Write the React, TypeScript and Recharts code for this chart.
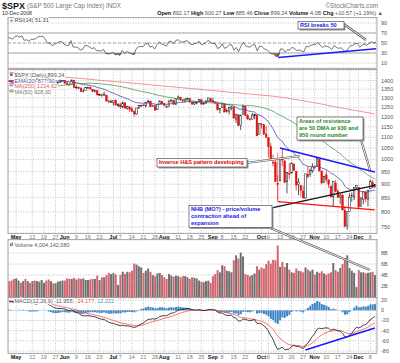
import React from "react"
import { ComposedChart, Bar, Line, Area, XAxis, YAxis, CartesianGrid, ReferenceLine, Cell } from "recharts"

// trading days, late Apr - 10 Dec 2008
const dates = [
  "4/28", "4/29", "4/30",
  "5/1", "5/2", "5/5", "5/6", "5/7", "5/8", "5/9", "5/12", "5/13", "5/14", "5/15", "5/16", "5/19", "5/20", "5/21", "5/22", "5/23", "5/27", "5/28", "5/29", "5/30",
  "6/2", "6/3", "6/4", "6/5", "6/6", "6/9", "6/10", "6/11", "6/12", "6/13", "6/16", "6/17", "6/18", "6/19", "6/20", "6/23", "6/24", "6/25", "6/26", "6/27", "6/30",
  "7/1", "7/2", "7/3", "7/7", "7/8", "7/9", "7/10", "7/11", "7/14", "7/15", "7/16", "7/17", "7/18", "7/21", "7/22", "7/23", "7/24", "7/25", "7/28", "7/29", "7/30", "7/31",
  "8/1", "8/4", "8/5", "8/6", "8/7", "8/8", "8/11", "8/12", "8/13", "8/14", "8/15", "8/18", "8/19", "8/20", "8/21", "8/22", "8/25", "8/26", "8/27", "8/28", "8/29",
  "9/2", "9/3", "9/4", "9/5", "9/8", "9/9", "9/10", "9/11", "9/12", "9/15", "9/16", "9/17", "9/18", "9/19", "9/22", "9/23", "9/24", "9/25", "9/26", "9/29", "9/30",
  "10/1", "10/2", "10/3", "10/6", "10/7", "10/8", "10/9", "10/10", "10/13", "10/14", "10/15", "10/16", "10/17", "10/20", "10/21", "10/22", "10/23", "10/24", "10/27", "10/28", "10/29", "10/30", "10/31",
  "11/3", "11/4", "11/5", "11/6", "11/7", "11/10", "11/11", "11/12", "11/13", "11/14", "11/17", "11/18", "11/19", "11/20", "11/21", "11/24", "11/25", "11/26", "11/28",
  "12/1", "12/2", "12/3", "12/4", "12/5", "12/8", "12/9", "12/10",
]

const opens = [
  1397.84, 1396.37, 1391.2,
  1385.97, 1409.16, 1415.3, 1405.6, 1417.5, 1394.3, 1394.9, 1389.4, 1404.4, 1405.0, 1408.4, 1423.9, 1425.3, 1424.5, 1414.1, 1390.8, 1392.2, 1375.97, 1386.5, 1390.5, 1398.4,
  1399.6, 1386.4, 1376.3, 1377.5, 1400.1, 1360.8, 1358.98, 1357.1, 1335.8, 1341.8, 1358.9, 1360.7, 1349.6, 1336.9, 1341.0, 1319.8, 1317.2, 1314.5, 1316.3, 1283.6, 1278.1,
  1276.7, 1285.8, 1262.96, 1262.9, 1251.8, 1273.4, 1245.3, 1248.7, 1241.6, 1226.8, 1214.6, 1246.3, 1258.2, 1261.8, 1257.1, 1278.9, 1283.2, 1253.1, 1257.8, 1236.4, 1264.5, 1281.4,
  1269.4, 1253.3, 1254.9, 1283.99, 1286.5, 1266.3, 1294.4, 1304.8, 1288.6, 1282.1, 1293.9, 1298.1, 1276.7, 1267.3, 1271.1, 1277.6, 1290.5, 1267.0, 1271.3, 1283.8, 1296.5,
  1287.8, 1276.6, 1271.8, 1233.2, 1249.5, 1267.98, 1227.5, 1229.0, 1245.9, 1250.9, 1188.3, 1210.3, 1157.1, 1213.1, 1255.4, 1207.6, 1188.8, 1187.9, 1204.5, 1209.1, 1113.8,
  1164.2, 1160.6, 1115.2, 1097.6, 1057.6, 988.9, 988.4, 902.3, 912.8, 1009.97, 994.6, 909.5, 942.3, 943.5, 980.4, 951.7, 899.1, 895.2, 874.3, 848.9, 939.5, 939.4, 953.1,
  968.7, 971.3, 1001.8, 952.4, 907.4, 936.8, 917.2, 893.4, 853.1, 904.4, 873.2, 852.3, 859.0, 805.9, 755.8, 801.2, 853.4, 852.9, 886.9,
  888.6, 817.9, 843.6, 869.8, 844.4, 882.7, 906.5, 892.17,
]

const highs = [
  1402.9, 1397.1, 1404.6,
  1410.1, 1422.7, 1415.3, 1421.6, 1419.5, 1402.4, 1394.9, 1404.1, 1406.3, 1420.2, 1424.4, 1425.8, 1440.2, 1424.5, 1419.1, 1399.1, 1392.2, 1387.4, 1391.3, 1406.3, 1404.5,
  1399.6, 1393.1, 1388.2, 1405.3, 1400.1, 1370.6, 1366.8, 1357.1, 1353.0, 1360.1, 1364.7, 1366.6, 1349.6, 1347.7, 1341.0, 1323.8, 1326.0, 1335.6, 1316.3, 1289.5, 1290.3,
  1285.3, 1292.2, 1271.5, 1273.9, 1282.1, 1277.4, 1257.7, 1257.3, 1253.5, 1234.4, 1245.5, 1262.3, 1262.2, 1267.7, 1277.4, 1291.2, 1283.2, 1263.2, 1260.1, 1263.2, 1284.3, 1284.9,
  1270.5, 1260.5, 1284.9, 1291.7, 1286.5, 1297.9, 1313.2, 1304.8, 1294.0, 1300.1, 1302.1, 1300.2, 1276.7, 1276.0, 1281.6, 1293.1, 1290.5, 1275.7, 1289.6, 1300.7, 1296.5,
  1303.0, 1280.6, 1271.8, 1244.9, 1274.4, 1268.7, 1243.9, 1249.1, 1255.1, 1250.9, 1214.8, 1210.3, 1211.1, 1265.1, 1255.5, 1214.0, 1197.4, 1220.0, 1215.8, 1209.1, 1168.0,
  1167.0, 1160.6, 1153.8, 1097.6, 1072.9, 1021.1, 1005.3, 936.4, 1006.9, 1044.3, 994.6, 947.7, 984.6, 985.4, 985.4, 951.7, 922.8, 896.3, 893.8, 940.51, 969.97, 963.2, 984.4,
  975.5, 1007.5, 1001.8, 952.4, 931.5, 951.95, 917.2, 893.4, 913.0, 916.9, 882.3, 865.9, 864.6, 820.5, 801.2, 865.6, 868.9, 887.7, 896.3,
  888.6, 850.5, 873.1, 875.6, 879.4, 918.6, 916.3, 900.27,
]

const lows = [
  1394.4, 1386.7, 1384.0,
  1383.1, 1406.3, 1404.4, 1397.1, 1391.2, 1389.4, 1384.1, 1386.2, 1396.3, 1405.0, 1406.9, 1414.4, 1421.6, 1409.1, 1388.8, 1390.2, 1373.7, 1373.1, 1378.2, 1388.6, 1398.1,
  1377.8, 1370.1, 1371.7, 1377.5, 1359.9, 1350.6, 1351.6, 1335.4, 1331.3, 1341.7, 1352.1, 1350.5, 1333.4, 1330.9, 1314.5, 1315.3, 1304.4, 1314.5, 1283.1, 1272.0, 1274.9,
  1260.7, 1261.5, 1252.0, 1240.7, 1245.0, 1244.6, 1236.8, 1225.4, 1225.0, 1200.4, 1211.4, 1241.4, 1251.8, 1255.7, 1248.8, 1276.1, 1251.5, 1251.8, 1234.3, 1236.4, 1264.5, 1265.7,
  1254.5, 1247.5, 1254.7, 1276.0, 1264.3, 1262.1, 1292.8, 1285.6, 1274.9, 1276.8, 1290.7, 1274.5, 1263.1, 1261.2, 1265.2, 1277.6, 1264.9, 1263.2, 1270.6, 1283.8, 1281.9,
  1272.2, 1265.6, 1232.8, 1217.2, 1247.1, 1224.5, 1221.6, 1211.5, 1233.8, 1192.7, 1169.3, 1155.9, 1133.5, 1213.1, 1205.6, 1187.0, 1179.8, 1187.9, 1187.5, 1106.4, 1113.8,
  1140.8, 1111.4, 1098.1, 1007.97, 996.2, 970.97, 909.2, 839.8, 912.8, 972.1, 903.99, 865.8, 918.7, 943.5, 952.5, 875.8, 858.4, 852.9, 846.8, 845.3, 922.3, 928.5, 944.6,
  958.6, 971.3, 949.9, 899.7, 906.9, 907.5, 884.9, 850.5, 818.7, 869.9, 848.98, 826.8, 806.2, 747.8, 741.0, 801.2, 834.99, 841.4, 881.2,
  815.7, 817.9, 827.6, 833.6, 818.4, 882.7, 885.4, 885.46,
]

const closes = [
  1396.37, 1390.94, 1385.59,
  1409.34, 1413.90, 1407.49, 1418.26, 1392.57, 1397.68, 1388.28, 1403.58, 1403.04, 1408.66, 1423.57, 1425.35, 1426.63, 1413.40, 1390.71, 1394.35, 1375.93, 1385.35, 1390.84, 1398.26, 1400.38,
  1385.67, 1377.65, 1377.20, 1404.05, 1360.68, 1361.76, 1358.44, 1335.49, 1339.87, 1360.03, 1360.14, 1350.93, 1337.81, 1342.83, 1317.93, 1318.00, 1314.29, 1321.97, 1283.15, 1278.38, 1280.00,
  1284.91, 1261.52, 1262.90, 1252.31, 1273.70, 1244.69, 1253.39, 1239.49, 1228.30, 1214.91, 1245.36, 1260.32, 1260.68, 1260.00, 1277.00, 1282.19, 1252.54, 1257.76, 1234.37, 1263.20, 1284.26, 1267.38,
  1260.31, 1249.01, 1284.88, 1289.19, 1266.07, 1296.32, 1305.32, 1289.59, 1285.83, 1292.93, 1298.20, 1278.60, 1266.69, 1274.54, 1277.72, 1292.20, 1266.84, 1271.51, 1281.66, 1300.68, 1282.83,
  1277.58, 1274.98, 1236.83, 1242.31, 1267.79, 1224.51, 1232.04, 1249.05, 1251.70, 1192.70, 1213.60, 1156.39, 1206.51, 1255.08, 1207.09, 1188.22, 1185.87, 1209.18, 1213.27, 1106.42, 1166.36,
  1161.06, 1114.28, 1099.23, 1056.89, 996.23, 984.94, 909.92, 899.22, 1003.35, 998.01, 907.84, 946.43, 940.55, 985.40, 955.05, 896.78, 908.11, 876.77, 848.92, 940.51, 930.09, 954.09, 968.75,
  966.30, 1005.75, 952.77, 904.88, 930.99, 919.21, 898.95, 852.30, 911.29, 873.29, 850.75, 859.12, 806.58, 752.44, 800.03, 851.81, 857.39, 887.68, 896.24,
  816.21, 848.81, 870.74, 845.22, 876.07, 909.70, 888.67, 899.24,
]

// volume in billions of shares
const volumes = [
  2.9, 3.0, 3.3,
  3.4, 3.0, 2.6, 2.9, 3.3, 2.9, 2.6, 2.9, 3.0, 2.9, 2.8, 3.1, 2.6, 3.0, 3.2, 2.9, 2.5, 2.5, 2.8, 2.9, 3.0,
  3.0, 3.4, 3.3, 3.3, 3.5, 3.2, 3.4, 3.3, 3.4, 3.1, 3.1, 3.2, 3.3, 3.3, 3.9, 3.1, 3.6, 3.6, 4.0, 4.4, 4.2,
  4.4, 4.1, 2.2, 4.0, 4.6, 4.2, 4.6, 4.5, 4.8, 6.1, 5.9, 5.6, 5.4, 4.4, 4.8, 5.2, 4.6, 4.0, 3.8, 4.3, 4.4, 4.0,
  3.6, 3.3, 4.2, 3.9, 3.7, 3.9, 3.8, 3.6, 3.8, 3.8, 3.6, 3.3, 3.6, 3.5, 3.4, 3.0, 2.8, 2.7, 2.9, 3.0, 2.6,
  3.8, 4.2, 4.9, 4.5, 5.8, 5.6, 4.8, 4.7, 4.5, 6.7, 7.6, 7.0, 8.1, 7.4, 4.2, 4.0, 3.8, 4.0, 4.3, 5.6, 5.0,
  5.4, 5.2, 6.0, 6.6, 6.1, 6.8, 6.7, 9.4, 5.5, 6.4, 5.5, 6.2, 5.0, 4.5, 4.4, 5.2, 4.8, 4.7, 4.5, 5.4, 5.0, 4.7, 5.0,
  4.1, 4.6, 4.4, 4.7, 4.3, 4.1, 4.3, 4.5, 6.2, 4.9, 4.6, 5.3, 6.0, 7.1, 7.6, 5.3, 4.8, 4.4, 1.8,
  4.9, 4.5, 4.5, 4.3, 4.4, 4.5, 4.6, 4.0,
]

const prevClose0 = 1397.84 // 25 Apr close

// 50-day MA before enough closes are on the chart, 200-day MA throughout
const ma50EarlyDates = ["4/28", "5/5", "5/12", "5/19", "5/27", "6/3", "6/10", "6/17", "6/24", "7/1"]
const ma50EarlyVals = [1344, 1346, 1350, 1358, 1367, 1376, 1382, 1385, 1381, 1373]
const ma200Dates = [
  "4/28", "5/5", "5/12", "5/19", "5/27", "6/3", "6/10", "6/17", "6/24", "7/1", "7/9", "7/16", "7/23", "7/30", "8/6", "8/13", "8/20",
  "8/27", "9/4", "9/11", "9/18", "9/25", "10/2", "10/9", "10/16", "10/23", "10/30", "11/6", "11/13", "11/20", "11/28", "12/5", "12/10",
]
const ma200Vals = [
  1451, 1445, 1439, 1432, 1426, 1420, 1414, 1408, 1401, 1395, 1389, 1383, 1377, 1370, 1364, 1358, 1352,
  1346, 1340, 1333, 1327, 1321, 1315, 1309, 1300, 1289, 1278, 1267, 1254, 1243, 1232, 1221, 1214.62,
]

const ema20Seed = 1378
const ema12Seed = 1380
const ema26Seed = 1362
const signalSeed = 16
const gainSeed = 9
const lossSeed = 5.5

const tickDates = ["5/1", "5/12", "5/19", "5/27", "6/2", "6/9", "6/16", "6/23", "7/1", "7/7", "7/14", "7/21", "7/28", "8/1", "8/11", "8/18", "8/25", "9/2", "9/8", "9/15", "9/22", "10/1", "10/6", "10/13", "10/20", "10/27", "11/3", "11/10", "11/17", "11/24", "12/1", "12/8"]
const tickLabels = ["May", "12", "19", "27", "Jun", "9", "16", "23", "Jul", "7", "14", "21", "28", "Aug", "11", "18", "25", "Sep", "8", "15", "22", "Oct", "6", "13", "20", "27", "Nov", "10", "17", "24", "Dec", "8"]

const priceTicks = [750, 800, 850, 900, 950, 1000, 1050, 1100, 1150, 1200, 1250, 1300, 1350, 1400]
const rsiTicks = [10, 30, 50, 70, 90]
const volTicks = [2, 4, 6, 8]
const macdTicks = [-80, -60, -40, -20, 0, 20]

const FONT = "'Liberation Sans', Arial, sans-serif"
const LEFT = 8
const AXIS_W = 24
const GRID = "#c4c4c4"

const data = (() => {
  let e20 = ema20Seed, e12 = ema12Seed, e26 = ema26Seed, sig = signalSeed
  let ag = gainSeed, al = lossSeed
  return dates.map((d, i) => {
    const c = closes[i]
    const ch = c - (i === 0 ? prevClose0 : closes[i - 1])
    e20 += (c - e20) * (2 / 21)
    e12 += (c - e12) * (2 / 13)
    e26 += (c - e26) * (2 / 27)
    const macd = e12 - e26
    sig += (macd - sig) * 0.2
    ag = (ag * 13 + Math.max(ch, 0)) / 14
    al = (al * 13 + Math.max(-ch, 0)) / 14
    const rsi = 100 - 100 / (1 + ag / al)
    let ma50: number | undefined
    if (i >= 49) ma50 = closes.slice(i - 49, i + 1).reduce((a, b) => a + b, 0) / 50
    else {
      const k = ma50EarlyDates.indexOf(d)
      if (k >= 0) ma50 = ma50EarlyVals[k]
    }
    const m = ma200Dates.indexOf(d)
    return {
      d,
      o: opens[i],
      h: highs[i],
      l: lows[i],
      c,
      up: ch >= 0,
      range: [lows[i], highs[i]],
      ema20: e20,
      ma50,
      ma200: m >= 0 ? ma200Vals[m] : undefined,
      v: volumes[i],
      rsi,
      rsiLow: [Math.min(rsi, 30), 30],
      macd,
      signal: sig,
      hist: macd - sig,
    }
  })
})()

const Candle = (props: any) => {
  const { x, y, width, height, payload } = props
  if (!payload || height == null) return null
  const { o, h, l, c, up } = payload
  const span = Math.log(h) - Math.log(l)
  const at = (v: number) => y + (height * (Math.log(h) - Math.log(v))) / span
  const cx = x + width / 2
  const col = up ? "#111" : "#e01010"
  const yo = at(o)
  const yc = at(c)
  const top = Math.min(yo, yc)
  const bh = Math.max(Math.abs(yc - yo), 0.7)
  return (
    <g>
      <line x1={cx} x2={cx} y1={y} y2={y + height} stroke={col} strokeWidth={0.7} />
      <rect x={cx - 0.8} y={top} width={1.6} height={bh} fill={c >= o ? "#fff" : col} stroke={col} strokeWidth={0.5} />
    </g>
  )
}

const XTick = ({ x, y, payload }: any) => {
  const label = tickLabels[tickDates.indexOf(payload.value)]
  const month = /[A-Za-z]/.test(label)
  return (
    <text x={x} y={y + 6.3} textAnchor="middle" fontSize={5.5} fontFamily={FONT} fontWeight={month ? 700 : 400} fill={month ? "#111" : "#777"}>
      {label}
    </text>
  )
}

const yTick = { fontSize: 5.5, fill: "#555", fontFamily: FONT }
const margin = { top: 0, right: 0, bottom: 0, left: LEFT }

const hiddenX = <XAxis dataKey="d" ticks={tickDates} interval={0} tick={false} tickLine={false} axisLine={false} height={0} />
const shownX = (
  <XAxis dataKey="d" ticks={tickDates} interval={0} tickLine={false} axisLine={false} tickSize={0} tickMargin={0} height={10} tick={(p: any) => <XTick {...p} />} />
)

const Callout = ({ x, y, w, h, color, lines }: { x: number; y: number; w: number; h: number; color: string; lines: string[] }) => (
  <g>
    <rect x={x + 1.5} y={y + 1.5} width={w} height={h} fill="#9a9a9a" />
    <rect x={x} y={y} width={w} height={h} fill="#fff" stroke="#333" strokeWidth={0.6} />
    {lines.map((t, i) => (
      <text key={i} x={x + 2} y={y + 5.6 + i * 7} fontSize={5.6} fontWeight={700} fill={color} fontFamily={FONT}>
        {t}
      </text>
    ))}
  </g>
)

const Pointer = ({ d }: { d: string }) => (
  <g fill="none">
    <path d={d} stroke="#555" strokeWidth={2.2} />
    <path d={d} stroke="#fff" strokeWidth={0.9} />
  </g>
)

const halo = { paintOrder: "stroke" as const, stroke: "#fff", strokeWidth: 2 }

export default function App() {
  return (
    <div style={{ position: "absolute", left: 0, top: 0, width: 400, height: 363, background: "#fff", overflow: "hidden" }}>
      {/* RSI */}
      <div style={{ position: "absolute", left: 0, top: 18 }}>
        <ComposedChart width={400} height={50} data={data} margin={margin}>
          <CartesianGrid stroke={GRID} strokeDasharray="1 1.5" />
          {hiddenX}
          <YAxis orientation="right" width={AXIS_W} domain={[0, 100]} ticks={rsiTicks} interval={0} tickLine={false} axisLine={false} tickSize={0} tickMargin={5} tick={yTick} />
          <ReferenceLine y={70} stroke="#999" strokeWidth={0.8} />
          <ReferenceLine y={30} stroke="#999" strokeWidth={0.8} />
          <ReferenceLine y={50} stroke="#999" strokeWidth={0.8} strokeDasharray="3 2" />
          <Area dataKey="rsiLow" fill="#9a4a4a" fillOpacity={0.9} stroke="none" isAnimationActive={false} />
          <Line dataKey="rsi" stroke="#3a3a3a" strokeWidth={0.7} dot={false} isAnimationActive={false} />
          <ReferenceLine segment={[{ x: "10/10", y: 21 }, { x: "12/10", y: 38.5 }]} stroke="#1a1aff" strokeWidth={1.5} />
        </ComposedChart>
      </div>

      {/* price */}
      <div style={{ position: "absolute", left: 0, top: 70 }}>
        <ComposedChart width={400} height={173} data={data} margin={margin}>
          <CartesianGrid stroke={GRID} strokeDasharray="1 1.5" />
          {shownX}
          <YAxis orientation="right" width={AXIS_W} scale="log" domain={[731, 1465]} allowDataOverflow ticks={priceTicks} interval={0} tickLine={false} axisLine={false} tickSize={0} tickMargin={5} tick={yTick} />
          <Line dataKey="ma200" stroke="#f07878" strokeWidth={0.8} dot={false} connectNulls isAnimationActive={false} />
          <Line dataKey="ma50" stroke="#4f9a4f" strokeWidth={0.8} dot={false} connectNulls isAnimationActive={false} />
          <Line dataKey="ema20" stroke="#4a4aa8" strokeWidth={0.8} dot={false} isAnimationActive={false} />
          <Bar dataKey="range" shape={(p: any) => <Candle {...p} />} isAnimationActive={false} />
          <ReferenceLine segment={[{ x: "10/13", y: 1050 }, { x: "12/10", y: 948 }]} stroke="#1a1aff" strokeWidth={1.6} />
          <ReferenceLine segment={[{ x: "10/7", y: 813 }, { x: "12/10", y: 896 }]} stroke="#111" strokeWidth={1.3} />
          <ReferenceLine segment={[{ x: "10/10", y: 1030 }, { x: "10/10", y: 836 }]} stroke="#ff3030" strokeWidth={0.6} />
          <ReferenceLine segment={[{ x: "10/10", y: 836 }, { x: "12/10", y: 807 }]} stroke="#ff1010" strokeWidth={1.2} />
        </ComposedChart>
      </div>

      {/* volume */}
      <div style={{ position: "absolute", left: 0, top: 240 }}>
        <ComposedChart width={400} height={57} data={data} margin={margin} barCategoryGap="12%">
          <CartesianGrid stroke={GRID} strokeDasharray="1 1.5" />
          {hiddenX}
          <YAxis orientation="right" width={AXIS_W} domain={[0, 10.4]} ticks={volTicks} interval={0} tickLine={false} axisLine={false} tickSize={0} tickMargin={5} tick={yTick} tickFormatter={(v: number) => `${v}B`} />
          <Bar dataKey="v" isAnimationActive={false}>
            {data.map((r, i) => (
              <Cell key={i} fill={r.up ? "#707070" : "#d4646e"} />
            ))}
          </Bar>
        </ComposedChart>
      </div>

      {/* MACD */}
      <div style={{ position: "absolute", left: 0, top: 298 }}>
        <ComposedChart width={400} height={65} data={data} margin={margin} barCategoryGap="15%">
          <CartesianGrid stroke={GRID} strokeDasharray="1 1.5" />
          {shownX}
          <YAxis orientation="right" width={AXIS_W} domain={[-83.9, 24.3]} allowDataOverflow ticks={macdTicks} interval={0} tickLine={false} axisLine={false} tickSize={0} tickMargin={5} tick={yTick} />
          <Bar dataKey="hist" fill="#3f87c4" isAnimationActive={false} />
          <Line dataKey="signal" stroke="#ff4a4a" strokeWidth={0.8} dot={false} isAnimationActive={false} />
          <Line dataKey="macd" stroke="#111" strokeWidth={0.8} dot={false} isAnimationActive={false} />
          <ReferenceLine segment={[{ x: "10/28", y: -78 }, { x: "12/10", y: -34.5 }]} stroke="#1a1aff" strokeWidth={1.6} />
        </ComposedChart>
      </div>

      <svg width={400} height={363} style={{ position: "absolute", left: 0, top: 0 }} fontFamily={FONT}>
        {/* panel frames */}
        <g fill="none" stroke="#9a9a9a" strokeWidth={0.8}>
          <rect x={8} y={17.5} width={369} height={51} />
          <rect x={8} y={69.5} width={369} height={164} />
          <rect x={8} y={239.5} width={369} height={58} />
          <rect x={8} y={297.5} width={369} height={56} />
        </g>

        {/* header */}
        <text x={2} y={9} fontSize={9} fontWeight={700} fill="#111">$SPX</text>
        <text x={27} y={8} fontSize={6.3} fill="#777">(S&amp;P 500 Large Cap Index) INDX</text>
        <text x={378} y={7.5} fontSize={6.3} fill="#777" textAnchor="end">©StockCharts.com</text>
        <text x={2} y={15.3} fontSize={5.2} fill="#333">10-Dec-2008</text>
        <text x={383} y={15.3} fontSize={5.5} fill="#555" textAnchor="end">
          <tspan fontWeight={700} fill="#111">Open</tspan> 892.17 <tspan fontWeight={700} fill="#111">High</tspan> 900.27{" "}
          <tspan fontWeight={700} fill="#111">Low</tspan> 885.46 <tspan fontWeight={700} fill="#111">Close</tspan> 899.24{" "}
          <tspan fontWeight={700} fill="#111">Volume</tspan> 4.0B <tspan fontWeight={700} fill="#111">Chg</tspan> +10.57 (+1.19%) ▲
        </text>

        {/* panel labels */}
        <polygon points="10,21.5 11.5,19 13,21.5" fill="#777" />
        <text x={14.5} y={21.5} fontSize={5.5} fill="#444" style={halo}>RSI(14) 51.31</text>

        <rect x={10} y={73.3} width={2.6} height={2.6} fill="#666" />
        <text x={14.5} y={76.8} fontSize={5.5} fill="#555" style={halo}>$SPX (Daily) 899.24</text>
        <line x1={9.5} x2={13.5} y1={80.7} y2={80.7} stroke="#3a3aa0" strokeWidth={1} />
        <text x={14.5} y={82.5} fontSize={5.5} fill="#5050aa" style={halo}>EMA(20) 877.90</text>
        <line x1={9.5} x2={13.5} y1={85.7} y2={85.7} stroke="#e05a5a" strokeWidth={1} />
        <text x={14.5} y={87.6} fontSize={5.5} fill="#d85a5a" style={halo}>MA(200) 1214.62</text>
        <line x1={9.5} x2={13.5} y1={91.7} y2={91.7} stroke="#777" strokeWidth={1} />
        <text x={14.5} y={93.6} fontSize={5.5} fill="#777" style={halo}>MA(50) 928.30</text>

        <rect x={10} y={243.5} width={1.2} height={2.5} fill="#666" />
        <rect x={11.6} y={242.5} width={1.2} height={3.5} fill="#666" />
        <text x={14.5} y={247.3} fontSize={5.5} fill="#555" style={halo}>Volume 4,004,142,080</text>

        <line x1={9.5} x2={13.5} y1={301.3} y2={301.3} stroke="#444" strokeWidth={1} />
        <text x={14.5} y={303.2} fontSize={5.5} fill="#555" style={halo}>
          MACD(12,26,9) -11.955, <tspan fill="#e84848">-24.177,</tspan> <tspan fill="#3f87c4">12.222</tspan>
        </text>

        {/* callouts */}
        <Pointer d="M343,23.5 L366,40" />
        <Callout x={298} y={21.5} w={46} h={7.5} color="#1a1aee" lines={["RSI breaks 50"]} />

        <Pointer d="M361,140 L370,170" />
        <Callout x={297} y={117} w={66} h={23} color="#1b8a1b" lines={["Areas of resistance", "are 50 DMA at 930 and", "950 round number"]} />

        <Pointer d="M246,163 L300,156" />
        <Callout x={157} y={158.5} w={90} h={8.5} color="#e00000" lines={["Inverse H&S pattern developing"]} />

        <Pointer d="M268,227 L370,270" />
        <Callout x={189} y={205.5} w={83} h={22} color="#2020e0" lines={["NHB (MO?) - price/volume", "contraction ahead of", "expansion"]} />
      </svg>
    </div>
  )
}
